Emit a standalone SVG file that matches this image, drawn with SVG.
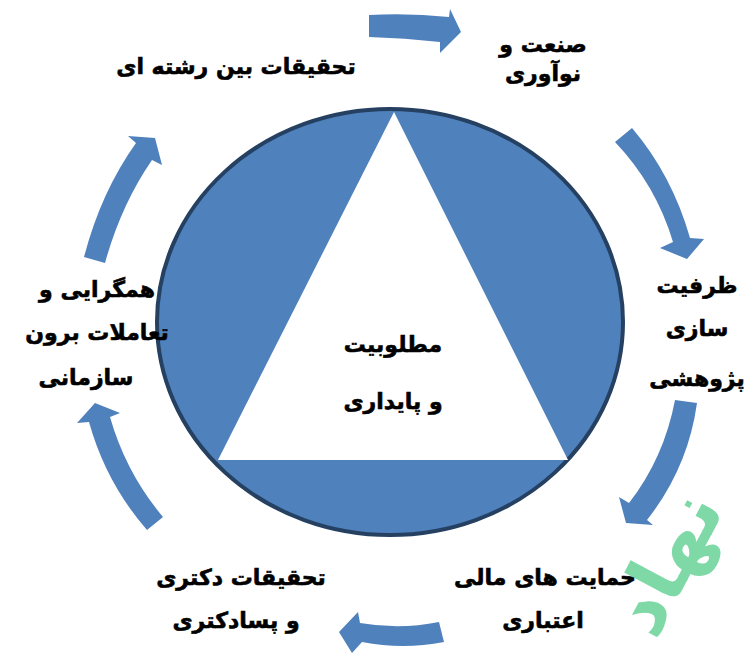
<svg xmlns="http://www.w3.org/2000/svg" width="748" height="654" viewBox="0 0 748 654">
<style>
.arrow{fill:#4F81BD;stroke:none}
.lbl{font-family:"DejaVu Sans",sans-serif;font-weight:bold;font-size:22px;fill:#000;stroke:#000;stroke-width:0.6;text-anchor:middle;direction:rtl}
.wm{font-family:"DejaVu Sans",sans-serif;font-weight:bold;font-size:78px;fill:#7FD9A7}
</style>
<rect width="748" height="654" fill="#FFFFFF"/>
<g id="watermark">
<text class="wm" x="0" y="0" transform="translate(690,575) rotate(-62)" text-anchor="middle">نهاد</text>
</g>
<g id="connectors">
<path class="arrow" d="M369,15 Q410,13 449,17 L450,9 L461,32 L440,53 L440,42 Q405,38 369,37 Z"/>
<path class="arrow" d="M632,128 Q672,175 690,238 L704,239 L687,259 L660,248 L673,242 Q656,185 615,142 Z"/>
<path class="arrow" d="M697,403 Q688,468 647,520 L653,525 L626,523 L619,497 L629,503 Q664,458 675,400 Z"/>
<path class="arrow" d="M439,622 Q400,630 360,623 L358,612 L339,632 L352,653 L362,642 Q403,650 444,642 Z"/>
<path class="arrow" d="M147,530 Q106,483 89,422 L77,423 L95,403 L120,413 L110,417 Q126,473 163,517 Z"/>
<path class="arrow" d="M84,257 Q101,192 136,143 L128,136 L155,138 L162,165 L152,160 Q121,205 105,263 Z"/>
</g>
<g id="center">
<ellipse cx="390" cy="322" rx="233" ry="213" fill="#4F81BD" stroke="#254061" stroke-width="4"/>
<polygon points="394,112 218,460 568,460" fill="#FFFFFF"/>
<text class="lbl" x="393" y="352">مطلوبیت</text>
<text class="lbl" x="393" y="409">و پایداری</text>
</g>
<g id="n-interdisciplinary">
<text class="lbl" x="236" y="74">تحقیقات بین رشته ای</text>
</g>
<g id="n-industry">
<text class="lbl" x="543" y="52">صنعت و</text>
<text class="lbl" x="543" y="81">نوآوری</text>
</g>
<g id="n-capacity">
<text class="lbl" x="697" y="293">ظرفیت</text>
<text class="lbl" x="697" y="336">سازی</text>
<text class="lbl" x="697" y="386">پژوهشی</text>
</g>
<g id="n-funding">
<text class="lbl" x="545" y="585">حمایت های مالی</text>
<text class="lbl" x="543" y="628">اعتباری</text>
</g>
<g id="n-doctoral">
<text class="lbl" x="241" y="585">تحقیقات دکتری</text>
<text class="lbl" x="236" y="628">و پسادکتری</text>
</g>
<g id="n-integration">
<text class="lbl" x="97" y="297">همگرایی و</text>
<text class="lbl" x="97" y="340">تعاملات برون</text>
<text class="lbl" x="86" y="385">سازمانی</text>
</g>
</svg>
